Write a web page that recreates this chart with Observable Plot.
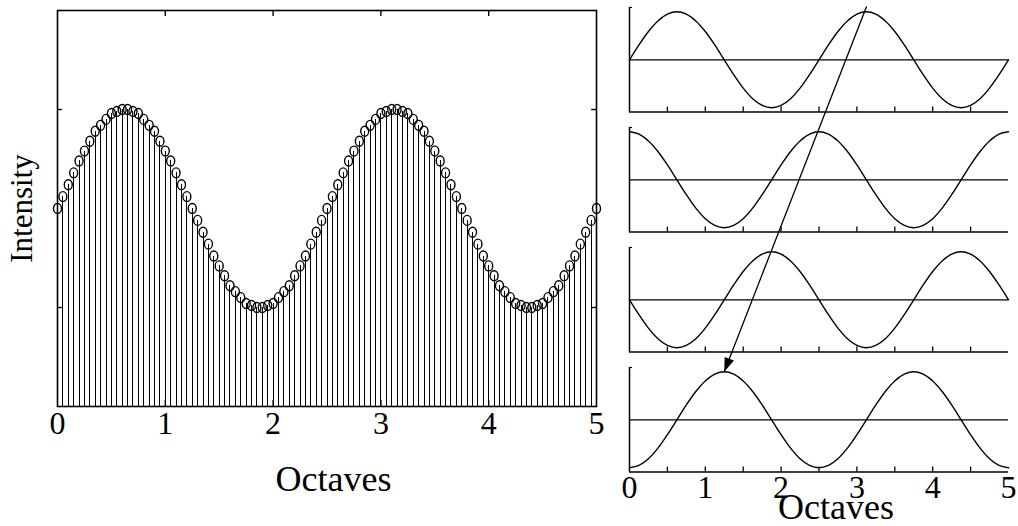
<!DOCTYPE html>
<html><head><meta charset="utf-8">
<script src="https://cdn.jsdelivr.net/npm/d3@7"></script>
<script src="https://cdn.jsdelivr.net/npm/@observablehq/plot@0.6"></script>
<style>
html,body{margin:0;padding:0;background:#fff;}
#fig{position:relative;width:1018px;height:526px;overflow:hidden;background:#fff;}
#fig svg{position:absolute;top:0;}
</style></head><body><div id="fig"></div>
<script>
// ---------- data ----------
const sampleStep = 0.05; // octaves between samples (left panel)
const intensity = [
  1.00,1.06,1.12,1.18,1.24,1.29,1.34,1.39,1.42,1.45,
  1.48,1.49,1.50,1.50,1.49,1.48,1.45,1.42,1.39,1.34,
  1.29,1.24,1.18,1.12,1.06,1.00,0.94,0.88,0.82,0.76,
  0.71,0.66,0.61,0.58,0.55,0.52,0.51,0.50,0.50,0.51,
  0.52,0.55,0.58,0.61,0.66,0.71,0.76,0.82,0.88,0.94,
  1.00,1.06,1.12,1.18,1.24,1.29,1.34,1.39,1.42,1.45,
  1.48,1.49,1.50,1.50,1.49,1.48,1.45,1.42,1.39,1.34,
  1.29,1.24,1.18,1.12,1.06,1.00,0.94,0.88,0.82,0.76,
  0.71,0.66,0.61,0.58,0.55,0.52,0.51,0.50,0.50,0.51,
  0.52,0.55,0.58,0.61,0.66,0.71,0.76,0.82,0.88,0.94,
  1.00
];
const xTickLabels = [0, 1, 2, 3, 4, 5];
const innerTicks = [1, 2, 3, 4];
const intensityTicks = [0.5, 1.5];

const curveStep = 0.125; // octaves between samples (right panels)
const panel1 = [0,0.31,0.59,0.81,0.95,1,0.95,0.81,0.59,0.31,0,-0.31,-0.59,-0.81,-0.95,-1,-0.95,-0.81,-0.59,-0.31,
                0,0.31,0.59,0.81,0.95,1,0.95,0.81,0.59,0.31,0,-0.31,-0.59,-0.81,-0.95,-1,-0.95,-0.81,-0.59,-0.31,0];
const panel2 = [1,0.95,0.81,0.59,0.31,0,-0.31,-0.59,-0.81,-0.95,-1,-0.95,-0.81,-0.59,-0.31,0,0.31,0.59,0.81,0.95,
                1,0.95,0.81,0.59,0.31,0,-0.31,-0.59,-0.81,-0.95,-1,-0.95,-0.81,-0.59,-0.31,0,0.31,0.59,0.81,0.95,1];
const panel3 = [0,-0.31,-0.59,-0.81,-0.95,-1,-0.95,-0.81,-0.59,-0.31,0,0.31,0.59,0.81,0.95,1,0.95,0.81,0.59,0.31,
                0,-0.31,-0.59,-0.81,-0.95,-1,-0.95,-0.81,-0.59,-0.31,0,0.31,0.59,0.81,0.95,1,0.95,0.81,0.59,0.31,0];
const panel4 = [-1,-0.95,-0.81,-0.59,-0.31,0,0.31,0.59,0.81,0.95,1,0.95,0.81,0.59,0.31,0,-0.31,-0.59,-0.81,-0.95,
                -1,-0.95,-0.81,-0.59,-0.31,0,0.31,0.59,0.81,0.95,1,0.95,0.81,0.59,0.31,0,-0.31,-0.59,-0.81,-0.95,-1];
const panelTicks = [0.5, 1, 1.5, 2, 2.5, 3, 3.5, 4, 4.5];
// arrow: from above panel 1 peak to the peak of panel 4
const arrowFrom = {panel: 0, octave: 3.125, value: 1.1};
const arrowTo = {panel: 3, octave: 1.25, value: 1.0};

// ---------- helpers ----------
const font = "'Liberation Serif', 'Times New Roman', Times, serif";
const baseStyle = {background: "transparent", color: "black", fontFamily: font, fontSize: "30px", overflow: "visible"};
const ellipse = {
  draw(ctx) {
    const rx = 4.0, ry = 5.0, k = 0.5523;
    ctx.moveTo(rx, 0);
    ctx.bezierCurveTo(rx, ry * k, rx * k, ry, 0, ry);
    ctx.bezierCurveTo(-rx * k, ry, -rx, ry * k, -rx, 0);
    ctx.bezierCurveTo(-rx, -ry * k, -rx * k, -ry, 0, -ry);
    ctx.bezierCurveTo(rx * k, -ry, rx, -ry * k, rx, 0);
    ctx.closePath();
  }
};

const fig = document.getElementById("fig");

// ---------- left panel ----------
const stems = intensity.map((v, i) => ({octave: i * sampleStep, intensity: v}));
const left = Plot.plot({
  width: 610, height: 526,
  marginLeft: 57, marginRight: 14, marginTop: 10, marginBottom: 120,
  x: {domain: [0, 5], axis: null},
  y: {domain: [0, 2], axis: null},
  style: baseStyle,
  marks: [
    Plot.ruleX(stems, {x: "octave", y1: 0, y2: "intensity", stroke: "black", strokeWidth: 1, shapeRendering: "crispEdges"}),
    Plot.dot(stems, {x: "octave", y: "intensity", symbol: ellipse, r: 4, stroke: "black", strokeWidth: 1.4, fill: "none"}),
    Plot.frame({stroke: "black", strokeWidth: 1.6}),
    Plot.ruleX(innerTicks, {x: d => d, y1: 2, y2: 2 - 0.03, stroke: "black", strokeWidth: 1.4}),
    Plot.ruleX(innerTicks, {x: d => d, y1: 0, y2: 0.03, stroke: "black", strokeWidth: 1.4}),
    Plot.ruleY(intensityTicks, {y: d => d, x1: 0, x2: 0.045, stroke: "black", strokeWidth: 1.4}),
    Plot.ruleY(intensityTicks, {y: d => d, x1: 5, x2: 4.955, stroke: "black", strokeWidth: 1.4}),
    Plot.text(xTickLabels, {x: d => d, y: 0, text: d => String(d), dy: 17, fontSize: 32, lineAnchor: "middle", textAnchor: "middle", fill: "black"}),
    Plot.text(["Octaves"], {text: d => d, frameAnchor: "bottom", dx: 6.5, dy: 72.5, fontSize: 36, lineAnchor: "middle", textAnchor: "middle", fill: "black"}),
    Plot.text(["Intensity"], {text: d => d, frameAnchor: "left", dx: -35.2, rotate: -90, fontSize: 31, lineAnchor: "middle", textAnchor: "middle", fill: "black"})
  ]
});
left.style.left = "0px";
fig.appendChild(left);

// ---------- right panels ----------
const PITCH = 2.5, HALF = 1.09;
const xDom = [0, 5], xRange = [19, 398];
const yDom = [-9.723, 1.235], yRange = [526, 0];
const panels = [panel1, panel2, panel3, panel4];
const curvePts = panels.flatMap((vals, p) => vals.map((v, i) => ({panel: p, octave: i * curveStep, level: v - PITCH * p})));
const base = panels.map((_, p) => ({panel: p, mid: -PITCH * p}));
const tickPts = base.flatMap(b => panelTicks.map(t => ({octave: t, y: b.mid - HALF})));
const arrowPts = [arrowFrom, arrowTo].map(a => ({octave: a.octave, level: a.value - PITCH * a.panel}));
const bottomLevel = base[base.length - 1].mid - HALF;

const sx = d3.scaleLinear(xDom, xRange), sy = d3.scaleLinear(yDom, yRange);
const ddx = sx(arrowPts[1].octave) - sx(arrowPts[0].octave);
const ddy = sy(arrowPts[1].level) - sy(arrowPts[0].level);
const len = Math.hypot(ddx, ddy), ux = ddx / len, uy = ddy / len;
const head = {
  draw(ctx) {
    const L = 14, W = 5;
    const bx = -ux * L, by = -uy * L;
    ctx.moveTo(0, 0);
    ctx.lineTo(bx - uy * W, by + ux * W);
    ctx.lineTo(bx + uy * W, by - ux * W);
    ctx.closePath();
  }
};

const right = Plot.plot({
  width: 408, height: 526,
  marginLeft: 19, marginRight: 10, marginTop: 0, marginBottom: 55,
  x: {domain: xDom, range: xRange, axis: null},
  y: {domain: yDom, range: yRange, axis: null},
  style: baseStyle,
  marks: [
    Plot.ruleX(base, {x: 0, y1: d => d.mid - HALF, y2: d => d.mid + HALF, stroke: "black", strokeWidth: 1.5}),
    Plot.ruleY(base, {y: d => d.mid - HALF, x1: 0, x2: 5, stroke: "black", strokeWidth: 1.5}),
    Plot.ruleY(base, {y: "mid", x1: 0, x2: 5, stroke: "black", strokeWidth: 1.2}),
    Plot.ruleY(base, {y: d => d.mid + HALF, x1: 0, x2: 0.04, stroke: "black", strokeWidth: 1.2}),
    Plot.ruleX(tickPts, {x: "octave", y1: "y", y2: d => d.y + 0.105, stroke: "black", strokeWidth: 1.3}),
    Plot.line(curvePts, {x: "octave", y: "level", z: "panel", curve: "catmull-rom", stroke: "black", strokeWidth: 1.4}),
    Plot.line(arrowPts, {x: "octave", y: "level", stroke: "black", strokeWidth: 1.3}),
    Plot.dot([arrowPts[1]], {x: "octave", y: "level", symbol: head, r: 5, fill: "black", stroke: "none"}),
    Plot.text(xTickLabels, {x: d => d, y: bottomLevel, text: d => String(d), dy: 16, fontSize: 32, lineAnchor: "middle", textAnchor: "middle", fill: "black"}),
    Plot.text(["Octaves"], {text: d => d, frameAnchor: "bottom", dx: 17, dy: 36, fontSize: 36, lineAnchor: "middle", textAnchor: "middle", fill: "black"})
  ]
});
right.style.left = "610px";
fig.appendChild(right);
</script>
</body></html>
